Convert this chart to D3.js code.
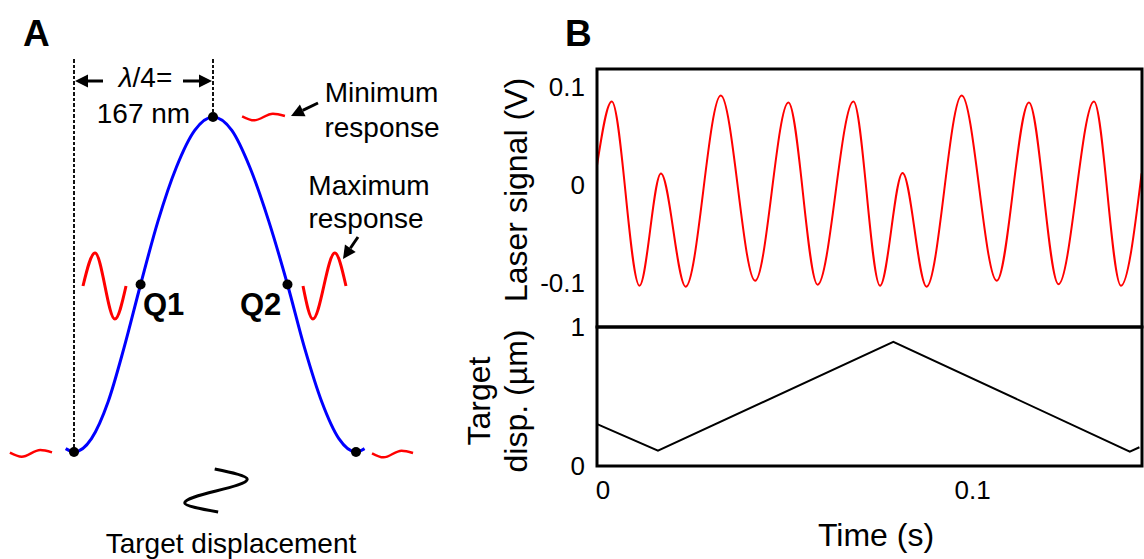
<!DOCTYPE html>
<html><head><meta charset="utf-8">
<script src="https://cdn.jsdelivr.net/npm/d3@7"></script>
<style>
body{margin:0;background:#fff}
svg{display:block}
text{font-family:"Liberation Sans",Arial,sans-serif;fill:#000}
</style>
</head><body>
<svg id="c" width="1144" height="559"></svg>
<script>
// ---------------- Panel B data ----------------
const laserTime = [-0.0015,0.0025,0.0100,0.0158,0.0225,0.0320,0.0413,0.0503,0.0582,0.0679,0.0751,0.0812,0.0877,0.0972,0.1067,0.1154,0.1234,0.1330,0.1403,0.1459];
const laserVolt = [0.02,0.085,-0.102,0.012,-0.103,0.091,-0.097,0.084,-0.101,0.085,-0.102,0.0125,-0.103,0.091,-0.097,0.084,-0.1005,0.085,-0.102,0.012];
const dispTime = [-0.0013,0.0150,0.0787,0.1427,0.1453];
const dispUm = [0.30,0.11,0.894,0.103,0.135];
const laserTicks = [0.1,0,-0.1];
const laserTickLabels = ["0.1","0","-0.1"];
const dispTicks = [1,0];
const dispTickLabels = ["1","0"];
const timeTicks = [0,0.1];
const timeTickLabels = ["0","0.1"];

// ---------------- Panel A data ----------------
const respNm  = [-10,0,21,41,60,80,101,123,145,167,189,210,232,254,274,294,314,334,344];
const respVal = [0.01,0,0.04,0.15,0.31,0.5,0.69,0.85,0.96,1,0.96,0.85,0.69,0.5,0.31,0.15,0.04,0,0.01];
const markerNm  = [0,80,167,254,334];
const markerVal = [0,0.5,1,0.5,0];
const markerLabels = ["","Q1","","Q2",""];
// small response waveforms (local shape: u along, w amplitude)
const smallWaveU = [0,0.28,0.72,1];
const smallWaveW = [0.2,-1,1,0.3];
const maxLeftU = [0,0.28,0.74,1];
const maxLeftW = [0,1,-1,0];
const maxRightU = [0,0.23,0.74,1];
const maxRightW = [0,-1,1,0];
// target displacement sketch (nm, intensity units)
const sketchNm  = [169,207,133,173];
const sketchVal = [-0.051,-0.081,-0.152,-0.179];

const svg = d3.select("#c");
const red = "#ff0000", blue = "#0000ff";

// ---------------- Panel A ----------------
const xA = d3.scaleLinear().domain([0,167,334]).range([74,213,356]);
const yA = d3.scaleLinear().domain([0,1]).range([452,117]);
const gA = svg.append("g");

// dashed guides
[[0,0],[167,1]].forEach(([n,v])=>{
  gA.append("line").attr("x1",xA(n)).attr("x2",xA(n)).attr("y1",yA(1.173)).attr("y2",yA(v))
    .attr("stroke","#111").attr("stroke-width",1.6).attr("stroke-dasharray","3.5,2")
    .attr("shape-rendering","crispEdges");
});

// response curve
const respData = respNm.map((n,i)=>[n,respVal[i]]);
gA.append("path").datum(respData)
  .attr("d",d3.line().x(d=>xA(d[0])).y(d=>yA(d[1])).curve(d3.curveMonotoneX))
  .attr("fill","none").attr("stroke",blue).attr("stroke-width",3);

// markers
markerNm.forEach((n,i)=>{
  gA.append("circle").attr("cx",xA(n)).attr("cy",yA(markerVal[i])).attr("r",5).attr("fill","#000");
});

// waveform glyphs
function glyph(us,ws,nm0,nm1,v,amp,w){
  const pts = us.map((u,i)=>[xA(nm0+(nm1-nm0)*u), yA(v+amp*ws[i])]);
  gA.append("path").datum(pts)
    .attr("d",d3.line().curve(d3.curveMonotoneX))
    .attr("fill","none").attr("stroke",red).attr("stroke-width",w);
}
glyph(smallWaveU,smallWaveW,201,251,1.0,0.010,2.5);
glyph(smallWaveU,smallWaveW,-77,-26.4,-0.004,0.010,2.5);
glyph(smallWaveU,smallWaveW,352.7,400.6,-0.006,0.010,2.5);
glyph(maxLeftU,maxLeftW,10.8,62.5,0.4955,0.0985,3);
glyph(maxRightU,maxRightW,272.1,322.3,0.4955,0.0985,3);

// target displacement sketch
const sk = sketchNm.map((n,i)=>[xA(n),yA(sketchVal[i])]);
gA.append("path").datum(sk).attr("d",d3.line().curve(d3.curveMonotoneY))
  .attr("fill","none").attr("stroke","#000").attr("stroke-width",3);

// arrows
function arrow(g,x1,y1,x2,y2,len,hw,w){
  const a = Math.atan2(y2-y1,x2-x1);
  const bx = x2-len*Math.cos(a), by = y2-len*Math.sin(a);
  g.append("line").attr("x1",x1).attr("y1",y1).attr("x2",bx).attr("y2",by)
    .attr("stroke","#000").attr("stroke-width",w);
  const px = -Math.sin(a)*hw, py = Math.cos(a)*hw;
  g.append("path").attr("d",`M${x2},${y2}L${bx+px},${by+py}L${bx-px},${by-py}Z`).attr("fill","#000");
}
arrow(gA,103,81,75,81,13,6.5,3);
arrow(gA,183,81,212,81,13,6.5,3);
arrow(gA,318,103,291,116,13,6.5,3);
arrow(gA,358,237,343,259,13,6.5,3);

const fA = 28;
gA.append("text").attr("x",145.5).attr("y",87).attr("text-anchor","middle").attr("font-size",fA)
  .html('<tspan font-style="italic">λ</tspan>/4=');
gA.append("text").attr("x",143.5).attr("y",123).attr("text-anchor","middle").attr("font-size",fA).text("167 nm");
gA.append("text").attr("x",381.5).attr("y",102).attr("text-anchor","middle").attr("font-size",fA).text("Minimum");
gA.append("text").attr("x",382).attr("y",137).attr("text-anchor","middle").attr("font-size",fA).text("response");
gA.append("text").attr("x",369).attr("y",195).attr("text-anchor","middle").attr("font-size",fA).text("Maximum");
gA.append("text").attr("x",366).attr("y",228).attr("text-anchor","middle").attr("font-size",fA).text("response");
gA.append("text").attr("x",143).attr("y",315).attr("font-size",31).attr("font-weight","bold").text(markerLabels[1]);
gA.append("text").attr("x",240).attr("y",315).attr("font-size",31).attr("font-weight","bold").text(markerLabels[3]);
gA.append("text").attr("x",231).attr("y",553).attr("text-anchor","middle").attr("font-size",fA).text("Target displacement");
svg.append("text").attr("x",23).attr("y",46).attr("font-size",37).attr("font-weight","bold").text("A");
svg.append("text").attr("x",565).attr("y",46).attr("font-size",37).attr("font-weight","bold").text("B");

// ---------------- Panel B ----------------
const L = 597, R = 1142, T = 69, M = 327, Bt = 466;
const xB = d3.scaleLinear().domain([-0.0015,0.146]).range([L,R]);
const yTop = d3.scaleLinear().domain([-0.144,0.118]).range([M,T]);
const yBot = d3.scaleLinear().domain([0,1]).range([Bt,M]);
const gB = svg.append("g");

const laserData = laserTime.map((t,i)=>[t,laserVolt[i]]);
gB.append("path").datum(laserData)
  .attr("d",d3.line().x(d=>xB(d[0])).y(d=>yTop(d[1])).curve(d3.curveMonotoneX))
  .attr("fill","none").attr("stroke",red).attr("stroke-width",2);

const dispData = dispTime.map((t,i)=>[t,dispUm[i]]);
gB.append("path").datum(dispData)
  .attr("d",d3.line().x(d=>xB(d[0])).y(d=>yBot(d[1])))
  .attr("fill","none").attr("stroke","#000").attr("stroke-width",2);

gB.append("rect").attr("x",L).attr("y",T).attr("width",R-L).attr("height",M-T)
  .attr("fill","none").attr("stroke","#000").attr("stroke-width",3);
gB.append("rect").attr("x",L).attr("y",M).attr("width",R-L).attr("height",Bt-M)
  .attr("fill","none").attr("stroke","#000").attr("stroke-width",3);

const fT = 26;
function styleAxis(g){
  g.select(".domain").remove();
  g.selectAll(".tick line").remove();
  g.selectAll("text").attr("font-size",fT).attr("font-family",'"Liberation Sans",Arial,sans-serif').attr("fill","#000");
}
function lbl(vals,labels){ return d => labels[vals.indexOf(d)]; }
gB.append("g").attr("transform",`translate(${L},0)`)
  .call(d3.axisLeft(yTop).tickValues(laserTicks).tickSize(0).tickPadding(12).tickFormat(lbl(laserTicks,laserTickLabels)))
  .call(styleAxis);
gB.append("g").attr("transform",`translate(${L},0)`)
  .call(d3.axisLeft(yBot).tickValues(dispTicks).tickSize(0).tickPadding(12).tickFormat(lbl(dispTicks,dispTickLabels)))
  .call(styleAxis);
gB.append("g").attr("transform",`translate(0,${Bt})`)
  .call(d3.axisBottom(xB).tickValues(timeTicks).tickSize(0).tickPadding(15).tickFormat(lbl(timeTicks,timeTickLabels)))
  .call(styleAxis);

const fL = 32;
gB.append("text").attr("transform","translate(527,190) rotate(-90)").attr("text-anchor","middle")
  .attr("font-size",fL).text("Laser signal (V)");
gB.append("text").attr("transform","translate(490,401) rotate(-90)").attr("text-anchor","middle")
  .attr("font-size",fL).text("Target");
gB.append("text").attr("transform","translate(527,401) rotate(-90)").attr("text-anchor","middle")
  .attr("font-size",fL).text("disp. (µm)");
gB.append("text").attr("x",876).attr("y",546).attr("text-anchor","middle")
  .attr("font-size",fL).text("Time (s)");
</script>
</body></html>
